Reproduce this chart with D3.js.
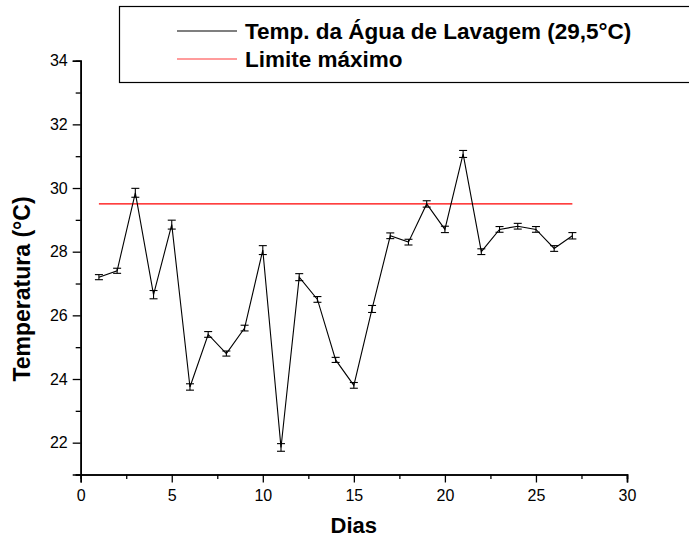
<!DOCTYPE html>
<html>
<head>
<meta charset="utf-8">
<script src="https://cdn.jsdelivr.net/npm/d3@7"></script>
<style>
  html, body { margin: 0; padding: 0; background: #fff; }
  svg { display: block; font-family: "Liberation Sans", Arial, sans-serif; }
</style>
</head>
<body>
<svg id="chart" width="689" height="539"></svg>
<script>
// Daily wash-water temperature (mean ± error) against the maximum limit
const days  = [1, 2, 3, 4, 5, 6, 7, 8, 9, 10, 11, 12, 13, 14, 15, 16, 17, 18, 19, 20, 21, 22, 23, 24, 25, 26, 27];
const temps = [27.2, 27.4, 29.85, 26.65, 28.85, 23.75, 25.4, 24.8, 25.6, 28.05, 21.85, 27.2, 26.5, 24.6, 23.8,
               26.2, 28.5, 28.3, 29.5, 28.7, 31.07, 28.0, 28.7, 28.8, 28.7, 28.1, 28.5];
const errs  = [0.08, 0.08, 0.14, 0.13, 0.14, 0.1, 0.09, 0.08, 0.09, 0.14, 0.12, 0.11, 0.09, 0.08, 0.09,
               0.11, 0.09, 0.09, 0.1, 0.1, 0.11, 0.09, 0.09, 0.09, 0.09, 0.09, 0.1];
const limitValue = 29.5;
const limitDays  = [1, 27];

const xMajor = [0, 5, 10, 15, 20, 25, 30];
const xMinor = [2.5, 7.5, 12.5, 17.5, 22.5, 27.5];
const yMajor = [22, 24, 26, 28, 30, 32, 34];
const yMinor = [21, 23, 25, 27, 29, 31, 33];

const seriesLabel = "Temp. da Água de Lavagem (29,5°C)";
const limitLabel  = "Limite máximo";
const xTitle = "Dias";
const yTitle = "Temperatura (°C)";

const svg = d3.select("#chart");

const x = d3.scaleLinear().domain([0, 30]).range([80.7, 627]);
const y = d3.scaleLinear().domain([21, 34]).range([474.5, 60.7]);

const font = "'Liberation Sans', Arial, sans-serif";

// Axes: major ticks with labels, minor ticks without
const xAxisG = svg.append("g").attr("transform", `translate(0,${y(21)})`);
xAxisG.call(d3.axisBottom(x).tickValues(xMajor).tickSize(8).tickPadding(7).tickFormat(d3.format("d")));
xAxisG.append("g").call(d3.axisBottom(x).tickValues(xMinor).tickSize(4.5).tickFormat(""));

const yAxisG = svg.append("g").attr("transform", `translate(${x(0)},0)`);
yAxisG.call(d3.axisLeft(y).tickValues(yMajor).tickSize(8).tickPadding(5).tickFormat(d3.format("d")));
yAxisG.append("g").call(d3.axisLeft(y).tickValues(yMinor).tickSize(5).tickFormat(""));

svg.selectAll(".domain").attr("stroke", "#000").attr("stroke-width", 1.6);
svg.selectAll(".tick line").attr("stroke", "#000").attr("stroke-width", 1.3);
svg.selectAll(".tick text").attr("font-family", font).attr("font-size", 16).attr("fill", "#000");
// minor-tick axes carry no domain line of their own
xAxisG.select("g").select(".domain").remove();
yAxisG.select("g").select(".domain").remove();

// Axis titles
svg.append("text")
  .attr("x", (x(0) + x(30)) / 2).attr("y", 533)
  .attr("text-anchor", "middle")
  .attr("font-family", font).attr("font-weight", "bold").attr("font-size", 22)
  .text(xTitle);

svg.append("text")
  .attr("transform", "translate(30,289) rotate(-90)")
  .attr("text-anchor", "middle")
  .attr("font-family", font).attr("font-weight", "bold").attr("font-size", 23)
  .text(yTitle);

// Maximum limit line
svg.append("line")
  .attr("x1", x(limitDays[0])).attr("x2", x(limitDays[1]))
  .attr("y1", y(limitValue)).attr("y2", y(limitValue))
  .attr("stroke", "#ff0000").attr("stroke-width", 1.3);

// Temperature series
const pts = days.map((d, i) => ({ d, t: temps[i], e: errs[i] }));

svg.append("path")
  .datum(pts)
  .attr("fill", "none").attr("stroke", "#000").attr("stroke-width", 1.1)
  .attr("d", d3.line().x(p => x(p.d)).y(p => y(p.t)));

// Error bars with caps
const eb = svg.append("g").attr("stroke", "#000").attr("stroke-width", 1.1);
pts.forEach(p => {
  const cx = x(p.d), top = y(p.t + p.e), bot = y(p.t - p.e);
  eb.append("line").attr("x1", cx).attr("x2", cx).attr("y1", top).attr("y2", bot);
  eb.append("line").attr("x1", cx - 4).attr("x2", cx + 4).attr("y1", top).attr("y2", top);
  eb.append("line").attr("x1", cx - 4).attr("x2", cx + 4).attr("y1", bot).attr("y2", bot);
});

// Legend
const lg = svg.append("g");
lg.append("rect")
  .attr("x", 119.5).attr("y", 6.5).attr("width", 600).attr("height", 76)
  .attr("fill", "none").attr("stroke", "#000").attr("stroke-width", 1.2);

const legendItems = [
  { label: seriesLabel, color: "#000", y: 31 },
  { label: limitLabel,  color: "#ff3b3b", y: 59 }
];
legendItems.forEach(it => {
  lg.append("line")
    .attr("x1", 177).attr("x2", 237).attr("y1", it.y).attr("y2", it.y)
    .attr("stroke", it.color).attr("stroke-width", 1.2);
  lg.append("text")
    .attr("x", 245).attr("y", it.y + 7.5)
    .attr("font-family", font).attr("font-weight", "bold").attr("font-size", 22.5)
    .text(it.label);
});
</script>
</body>
</html>
